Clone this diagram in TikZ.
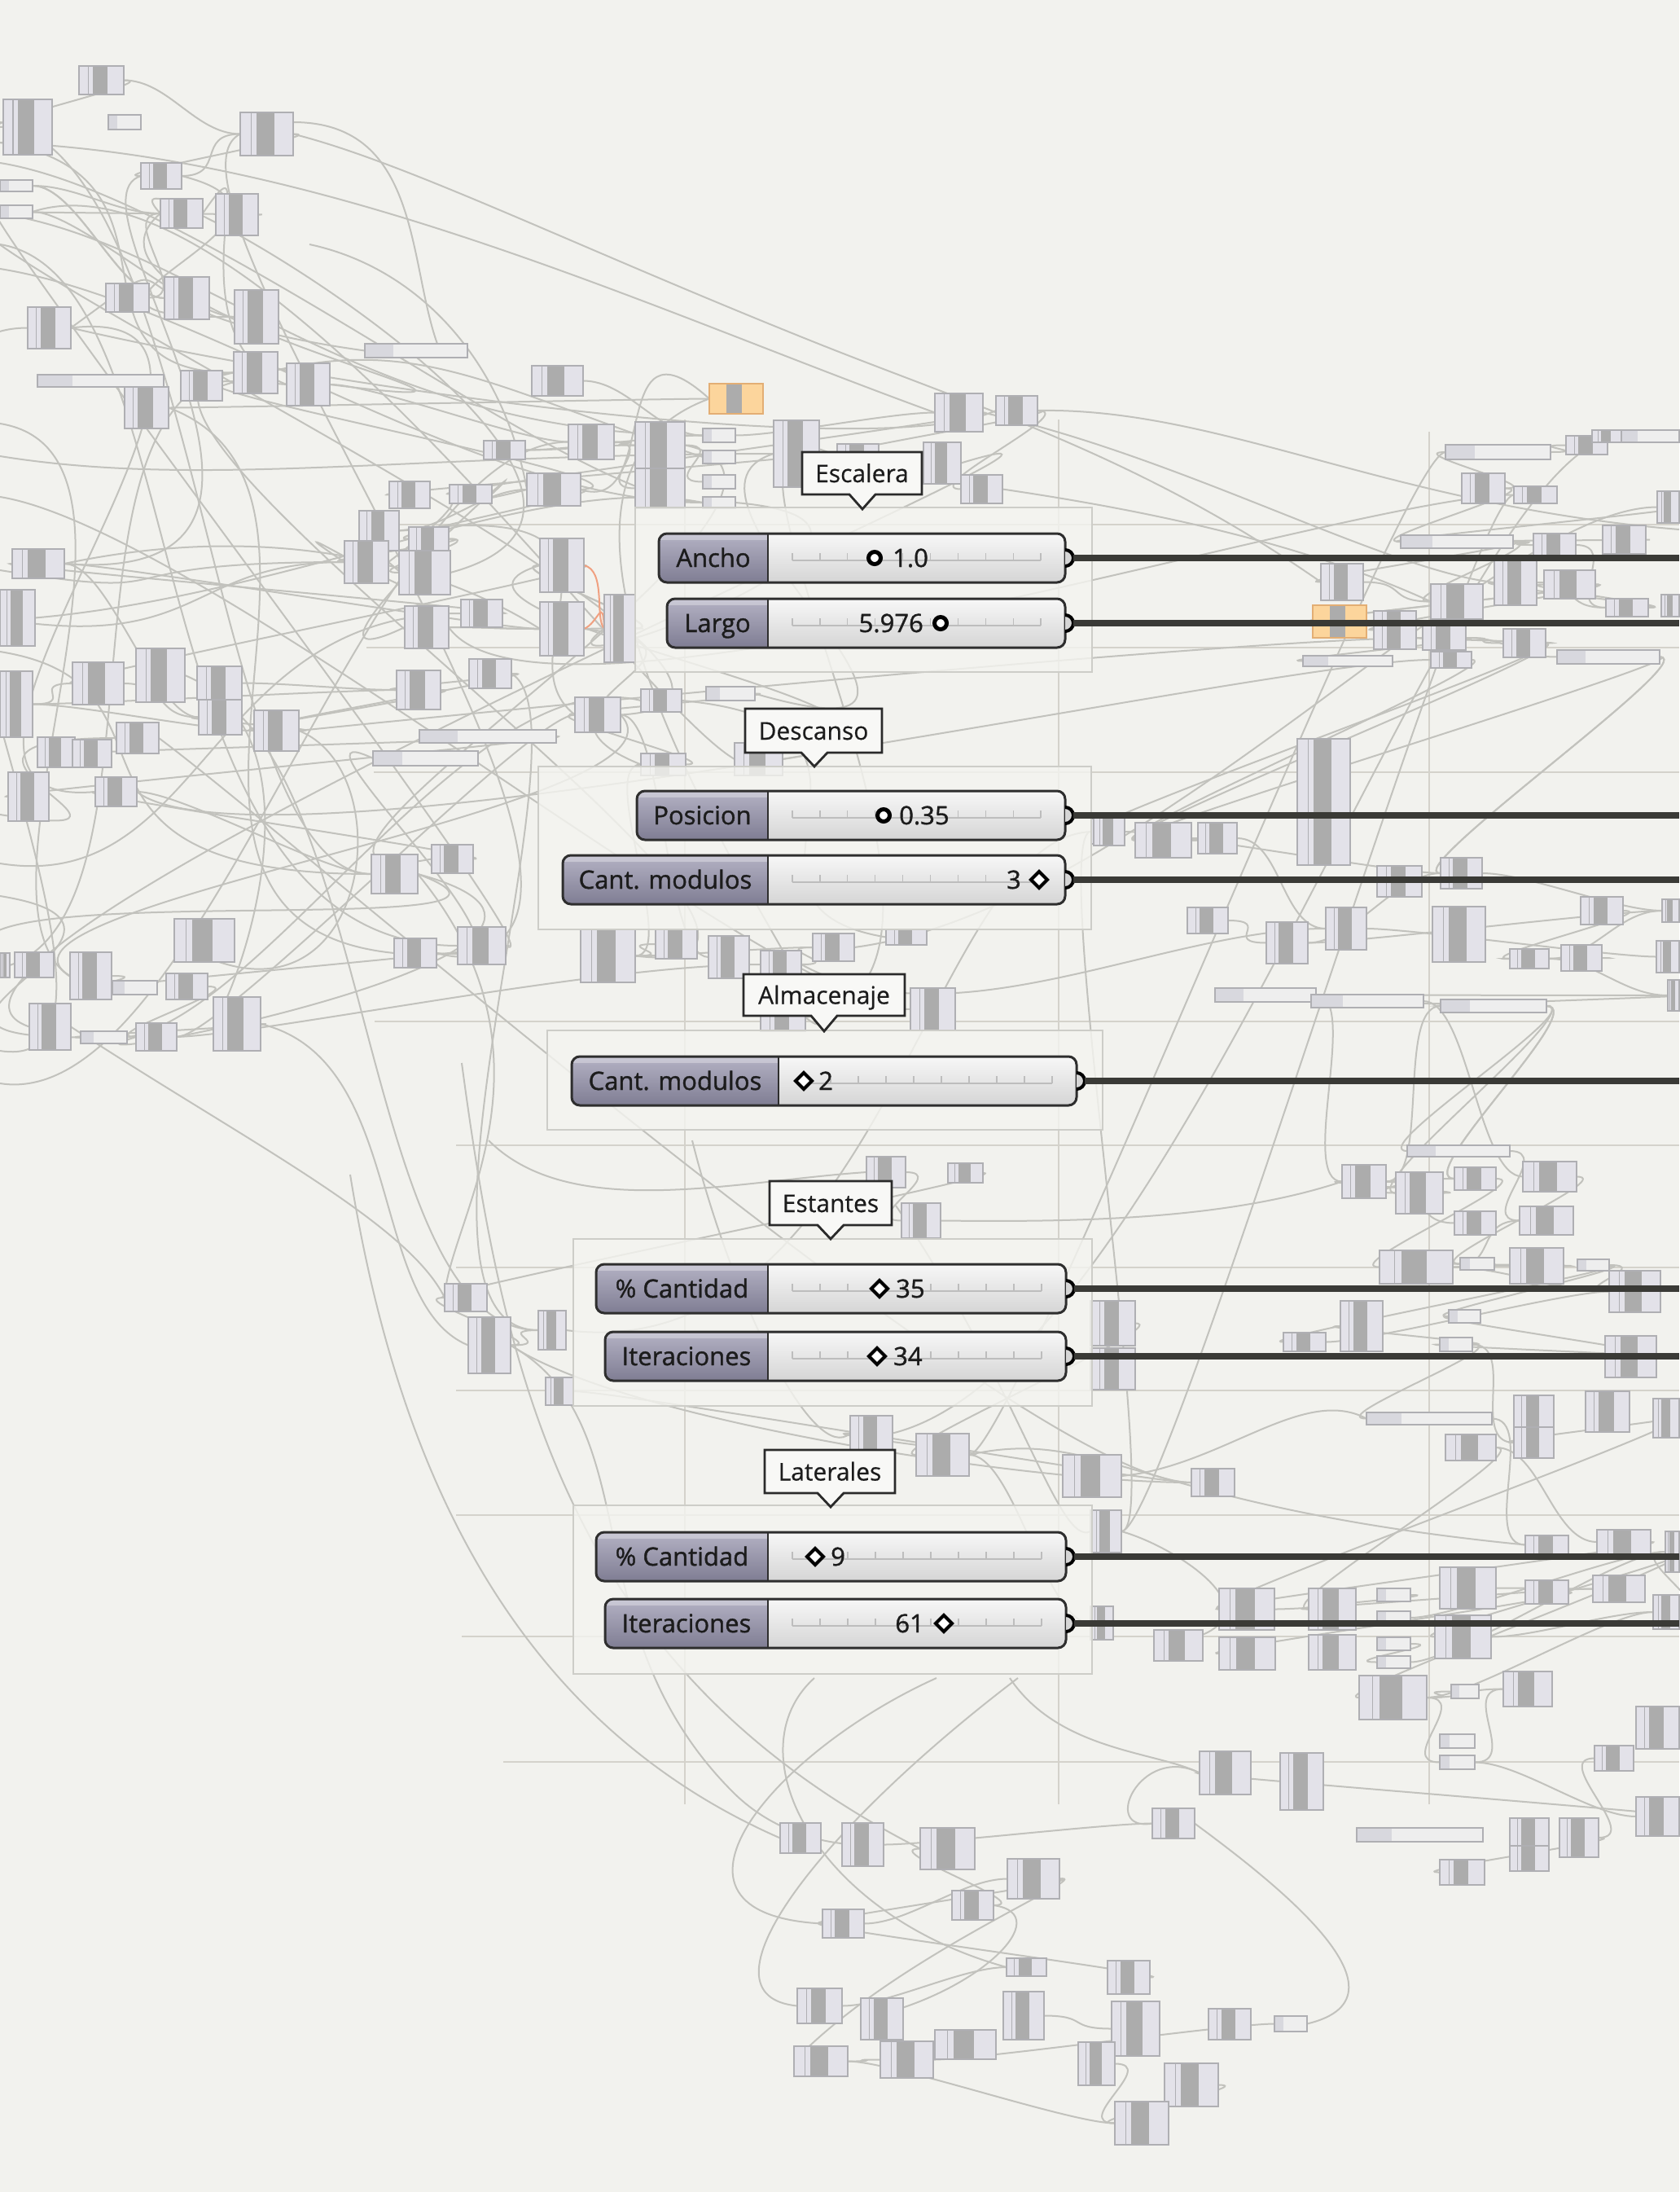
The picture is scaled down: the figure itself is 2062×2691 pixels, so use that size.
\documentclass[tikz,border=0pt]{standalone}
\usepackage{fontspec}
\setmainfont{Open Sans}
\newfontfamily\slfont[FakeBold=1.2]{Open Sans}
\newfontfamily\bbfont[FakeBold=0.5]{Open Sans}
\usetikzlibrary{calc}
\definecolor{bgc}{HTML}{F2F2EE}
\definecolor{wirec}{HTML}{C2C2BD}
\definecolor{gridc}{HTML}{D4D2CB}
\definecolor{compfill}{HTML}{E3E2E9}
\definecolor{compmid}{HTML}{ACACAC}
\definecolor{compborder}{HTML}{AFAFB3}
\definecolor{panelfill}{HTML}{EEEEEE}
\definecolor{panelleft}{HTML}{D8D8DE}
\definecolor{orangefill}{HTML}{FCD59C}
\definecolor{orangeborder}{HTML}{E3AE74}
\definecolor{groupc}{HTML}{CDCDC8}
\definecolor{groupfill}{HTML}{F4F4F0}
\definecolor{bubblef}{HTML}{F8F8F6}
\definecolor{bubbled}{HTML}{2A2A2A}
\definecolor{thickc}{HTML}{3A3A36}
\definecolor{nametop}{HTML}{B4B2C4}
\definecolor{namebot}{HTML}{7F7D93}
\definecolor{valtop}{HTML}{F7F7F7}
\definecolor{valbot}{HTML}{D5D5D5}
\definecolor{slborder}{HTML}{2E2E2E}
\definecolor{textc}{HTML}{1C1C1C}
\definecolor{tickc}{HTML}{BDBDBD}
\definecolor{orwire}{HTML}{F0A080}
\pgfdeclarelayer{bglayer}
\pgfdeclarelayer{wirelayer}
\pgfsetlayers{bglayer,wirelayer,main}
\tikzset{
  wire/.style={draw=wirec, line width=2pt},
  orangewire/.style={draw=orwire, line width=2pt},
  thickwire/.style={draw=thickc, line width=8pt},
  gridline/.style={draw=gridc, line width=1.6pt},
  groupbox/.style={draw=groupc, line width=2pt, fill=groupfill, fill opacity=0.8},
  bubble/.style={draw=bubbled, line width=2.8pt, fill=bubblef, line join=miter},
  lbl/.style={font=\slfont\fontsize{31}{37}\selectfont, text=textc, inner sep=0pt, anchor=base},
  blbl/.style={font=\bbfont\fontsize{30}{36}\selectfont, text=textc, inner sep=0pt, anchor=base},
  vallbl/.style={font=\slfont\fontsize{31}{37}\selectfont, text=textc, inner sep=0pt},
  ringmark/.style={draw=black, line width=5pt, fill=white},
  diamark/.style={draw=black, line width=4pt, fill=white, line join=miter},
}
% component: index, x1, y1, x2, y2
\newcommand\gcC[5]{%
  \pgfmathsetmacro\gw{#4-#2}%
  \fill[compfill] (#2,#3) rectangle (#4,#5);
  \fill[compmid] ({#2+0.3*\gw},#3) rectangle ({#2+0.64*\gw},#5);
  \draw[compborder, line width=1pt] ({#2+0.2*\gw},#3) -- ({#2+0.2*\gw},#5);
  \draw[compborder, line width=1.6pt] (#2,#3) rectangle (#4,#5);
  \coordinate (c#1-i) at (#2,{(#3+#5)/2});
  \coordinate (c#1-o) at (#4,{(#3+#5)/2});
}
\newcommand\gcP[5]{%
  \pgfmathsetmacro\gw{#4-#2}%
  \fill[panelfill] (#2,#3) rectangle (#4,#5);
  \fill[panelleft] (#2,#3) rectangle ({#2+0.28*\gw},#5);
  \draw[compborder, line width=1.6pt] (#2,#3) rectangle (#4,#5);
  \coordinate (c#1-i) at (#2,{(#3+#5)/2});
  \coordinate (c#1-o) at (#4,{(#3+#5)/2});
}
\newcommand\gcO[5]{%
  \pgfmathsetmacro\gw{#4-#2}%
  \fill[orangefill] (#2,#3) rectangle (#4,#5);
  \fill[compmid] ({#2+0.32*\gw},#3) rectangle ({#2+0.6*\gw},#5);
  \draw[orangeborder, line width=1.6pt] (#2,#3) rectangle (#4,#5);
  \coordinate (c#1-i) at (#2,{(#3+#5)/2});
  \coordinate (c#1-o) at (#4,{(#3+#5)/2});
}
% slider: name, x1, cy, sep, x2, label
\newcommand\gslider[6]{%
  \path[top color=valtop, bottom color=valbot, rounded corners=10pt] (#2,{#3-30}) rectangle (#5,{#3+30});
  \begin{scope}
    \clip[rounded corners=10pt] (#2,{#3-30}) rectangle (#5,{#3+30});
    \path[top color=nametop, bottom color=namebot] (#2,{#3-30}) rectangle (#4,{#3+30});
    \fill[white, opacity=0.3] (#2,{#3-30}) rectangle (#4,{#3-22});
  \end{scope}
  \draw[tickc, line width=1.2pt] ({#4+30},{#3+3}) -- ({#5-30},{#3+3});
  \foreach \tk in {0,...,9}{\draw[tickc, line width=1.2pt] ({#4+30+\tk*(#5-#4-60)/9},{#3-6}) -- ({#4+30+\tk*(#5-#4-60)/9},{#3+3});}
  \draw[slborder, line width=2.5pt] (#4,{#3-30}) -- (#4,{#3+30});
  \draw[slborder, line width=3pt, rounded corners=10pt] (#2,{#3-30}) rectangle (#5,{#3+30});
  \begin{scope}
    \clip (#5,{#3-17}) rectangle ({#5+17},{#3+17});
    \draw[black, line width=4pt, fill=valbot] (#5,#3) circle[radius=10pt];
  \end{scope}
  \coordinate (#1-out) at ({#5+10},#3);
  \coordinate (#1-end) at (2062,#3);
  \node[lbl] (#1-label) at ({(#2+#4)/2},{#3+11}) {#6};
}
% bubble: name, x1, y1, x2, y2, tipx, tipy, text
\newcommand\gbubble[8]{%
  \draw[bubble] (#2,#3) -- (#4,#3) -- (#4,#5) -- ({#6+16},#5) -- (#6,#7) -- ({#6-16},#5) -- (#2,#5) -- cycle;
  \node[blbl] (#1) at ({(#2+#4)/2},{(#3+#5)/2+11}) {#8};
}
\newcommand\ringat[2]{\draw[ringmark] (#1,#2) circle[radius=7.5pt];}
\newcommand\diaat[2]{\draw[diamark] ({#1-10},#2) -- (#1,{#2-10}) -- ({#1+10},#2) -- (#1,{#2+10}) -- cycle;}

\begin{document}
\begin{tikzpicture}[x=1pt,y=-1pt]
\useasboundingbox (0,0) rectangle (2062,2691);
\begin{pgfonlayer}{bglayer}
  \fill[bgc] (0,0) rectangle (2062,2691);
  \foreach \gy/\gx in {644/450, 795/450, 948/459, 1254/460, 1406/560, 1556/560, 1707/560, 1860/560, 2009/567, 2163/618}
    \draw[gridline] (\gx,\gy) -- (2062,\gy);
  \foreach \gx/\gya in {841/515, 1300/515, 1755/530}
    \draw[gridline] (\gx,\gya) -- (\gx,2215);
\end{pgfonlayer}

% ---------- components ----------
\foreach \ci/\ct/\xa/\ya/\xb/\yb in {
1/C/97/81/152/116, 2/C/4/122/64/190, 3/P/133/141/173/159, 4/C/295/138/360/191,
5/C/173/200/223/232, 6/P/0/221/40/235, 7/P/0/252/40/268, 8/C/197/244/249/280,
9/C/265/238/317/289, 10/C/130/348/183/383, 11/C/202/340/257/392, 12/C/288/356/342/422,
13/C/34/377/87/428, 14/C/287/432/341/483, 15/P/46/460/201/475, 16/C/153/475/207/526,
17/C/222/455/273/492, 18/C/352/446/405/498, 19/P/448/422/574/439, 20/C/653/449/716/486,
21/O/871/471/937/508, 22/C/594/541/645/564, 23/C/698/521/754/564, 24/C/780/518/841/575,
25/C/780/575/841/624, 26/P/863/526/903/543, 27/P/863/553/903/569, 28/P/863/583/903/600,
29/P/863/610/903/624, 30/C/950/516/1006/598, 31/C/1028/545/1079/575, 32/C/1148/483/1207/530,
33/C/1223/486/1274/522, 34/C/1134/543/1180/594, 35/C/1180/583/1231/618, 36/C/478/591/528/624,
37/C/552/595/604/618, 38/C/647/581/713/621, 39/C/441/627/490/676, 40/C/423/664/477/716,
41/C/502/647/551/676, 42/C/490/676/553/730, 43/C/497/744/551/796, 44/C/566/736/617/770,
45/C/663/661/717/727, 46/C/663/739/717/805, 47/C/742/730/780/813, 48/C/15/674/79/710,
49/C/0/724/43/793, 50/C/0/824/40/905, 51/C/89/813/152/865, 52/C/167/796/227/862,
53/C/242/818/297/859, 54/C/244/859/297/902, 55/C/312/872/367/922, 56/C/487/823/541/871,
57/C/576/809/628/845, 58/C/706/856/762/899, 59/P/515/896/683/912, 60/P/458/922/587/940,
61/C/143/887/195/925, 62/C/46/905/92/942, 63/C/89/908/137/942, 64/C/10/948/60/1008,
65/C/117/954/168/990, 66/C/456/1049/513/1097, 67/C/530/1037/581/1072, 68/C/214/1128/288/1181,
69/C/484/1152/536/1188, 70/C/562/1138/621/1184, 71/C/18/1169/66/1200, 72/C/86/1169/137/1227,
73/P/138/1204/193/1221, 74/C/204/1195/255/1227, 75/C/36/1232/87/1289, 76/P/99/1266/156/1281,
77/C/167/1256/217/1290, 78/C/262/1224/320/1290, 79/C/0/1170/12/1200, 80/P/867/843/927/860,
81/C/706/856/762/899, 82/C/787/846/837/874, 83/C/787/925/842/952, 84/C/902/912/961/952,
85/C/713/1141/780/1206, 86/C/805/1141/856/1177, 87/C/870/1149/920/1201, 88/C/934/1167/984/1201,
89/C/998/1146/1049/1180, 90/C/1088/1141/1138/1160, 91/C/1118/1213/1173/1265, 92/C/934/1232/989/1266,
93/C/1064/1420/1112/1458, 94/C/1164/1428/1207/1452, 95/C/1107/1477/1155/1520, 96/C/546/1576/598/1610,
97/C/575/1617/627/1686, 98/C/661/1609/695/1657, 99/C/670/1691/704/1725, 100/C/1339/1597/1394/1652,
101/C/1339/1655/1394/1706, 102/C/1044/1738/1096/1781, 103/C/1125/1760/1190/1812, 104/C/1305/1786/1377/1838,
105/C/1463/1803/1516/1837, 106/C/1339/1854/1377/1906, 107/C/1339/1972/1367/2013, 108/C/1340/1005/1360/1036,
109/P/1775/546/1904/564, 110/C/1795/581/1848/618, 111/C/1859/597/1912/618, 112/C/1923/535/1974/558,
113/C/1955/528/1991/543, 114/P/1991/528/2062/543, 115/C/2035/603/2062/642, 116/P/1720/657/1858/673,
117/C/1883/655/1935/683, 118/C/1968/645/2021/680, 119/C/1622/692/1674/737, 120/C/1757/717/1821/760,
121/C/1835/687/1887/743, 122/C/1896/700/1959/735, 123/C/1972/735/2024/757, 124/C/2040/730/2062/757,
125/O/1612/743/1678/783, 126/C/1687/750/1739/797, 127/C/1747/768/1800/798, 128/C/1846/772/1898/807,
129/P/1600/805/1710/818, 130/C/1757/800/1807/820, 131/P/1912/798/2038/815, 132/C/1343/1004/1381/1038,
133/C/1394/1010/1463/1053, 134/C/1471/1010/1519/1048, 135/C/1593/907/1658/1062, 136/C/1691/1063/1746/1101,
137/C/1769/1053/1820/1091, 138/C/1458/1114/1508/1146, 139/C/1555/1132/1606/1183, 140/C/1628/1114/1678/1166,
141/C/1759/1113/1824/1181, 142/C/1941/1101/1993/1135, 143/C/2041/1104/2062/1132, 144/C/1854/1165/1902/1189,
145/C/1917/1160/1967/1192, 146/C/2034/1155/2062/1194, 147/C/2048/1203/2062/1241, 148/P/1492/1213/1616/1230,
149/P/1610/1221/1748/1237, 150/P/1769/1227/1899/1243, 151/P/1728/1406/1854/1420, 152/C/1648/1430/1702/1471,
153/C/1714/1439/1772/1490, 154/C/1786/1433/1837/1461, 155/C/1870/1426/1936/1463, 156/C/1786/1487/1837/1516,
157/C/1866/1481/1932/1516, 158/C/1694/1535/1784/1576, 159/P/1793/1544/1835/1559, 160/C/1854/1532/1920/1576,
161/P/1937/1546/1976/1560, 162/C/1976/1560/2039/1611, 163/C/1576/1636/1628/1659, 164/C/1646/1597/1698/1659,
165/P/1779/1608/1818/1624, 166/P/1768/1642/1808/1659, 167/C/1971/1640/2034/1691, 168/P/1678/1734/1832/1749,
169/C/1859/1713/1908/1752, 170/C/1859/1752/1908/1790, 171/C/1947/1708/2001/1758, 172/P/2039/1730/2062/1745,
173/C/1775/1761/1837/1793, 174/C/1873/1885/1926/1908, 175/C/1961/1878/2027/1908, 176/C/1497/1950/1565/2001,
177/C/1607/1950/1665/2001, 178/P/1691/1950/1732/1966, 179/C/1768/1924/1837/1975, 180/C/1873/1940/1926/1969,
181/C/1956/1934/2020/1967, 182/C/1417/2001/1477/2039, 183/C/1497/2010/1566/2050, 184/C/1607/2007/1665/2050,
185/P/1691/1978/1732/1994, 186/P/1691/2010/1732/2026, 187/P/1691/2033/1732/2048, 188/C/1762/1983/1831/2036,
189/C/2030/1717/2062/1765, 190/C/2045/1880/2062/1930, 191/C/2030/1958/2062/2000, 192/C/2009/2095/2062/2147,
193/C/1669/2057/1752/2111, 194/P/1782/2068/1816/2085, 195/C/1846/2052/1906/2095, 196/P/1768/2129/1811/2146,
197/P/1768/2155/1811/2172, 198/C/1958/2143/2006/2174, 199/C/2009/2206/2062/2254, 200/C/1915/2232/1963/2280,
201/C/1854/2232/1902/2266, 202/C/1854/2266/1902/2297, 203/P/1666/2244/1821/2261, 204/C/1768/2283/1823/2314,
205/C/1473/2150/1536/2203, 206/C/1572/2152/1625/2222, 207/C/1415/2220/1467/2257, 208/C/958/2238/1008/2275,
209/C/1034/2238/1085/2291, 210/C/1130/2244/1197/2295, 211/C/1237/2282/1301/2331, 212/C/1169/2321/1220/2357,
213/C/1010/2344/1061/2379, 214/C/1236/2404/1285/2426, 215/C/1360/2407/1412/2448, 216/C/979/2441/1034/2484,
217/C/1057/2453/1109/2504, 218/C/1232/2445/1282/2504, 219/C/1365/2457/1424/2524, 220/C/1484/2466/1536/2504,
221/P/1565/2475/1605/2494, 222/C/975/2512/1041/2549, 223/C/1081/2506/1146/2551, 224/C/1148/2492/1223/2528,
225/C/1324/2507/1369/2560, 226/C/1430/2533/1496/2586, 227/C/1369/2580/1435/2633}
{\csname gc\ct\endcsname{\ci}{\xa}{\ya}{\xb}{\yb}}

% ---------- thin wires ----------
\begin{pgfonlayer}{wirelayer}
\pgfmathsetseed{4242}
% local wires between neighbouring components
\foreach \k in {1,...,210}{
  \pgfmathrandominteger{\ra}{1}{227}
  \pgfmathrandominteger{\rd}{0}{8}
  \pgfmathtruncatemacro{\rb}{max(1,min(227,\ra+\rd-2))}
  \ifnum\rb=\ra\else
    \draw[wire] (c\ra-o) .. controls +(55,0) and +(-55,0) .. (c\rb-i);
  \fi
}
% long wires in the left web
\foreach \k in {1,...,38}{
  \pgfmathrandominteger{\ra}{1}{92}
  \pgfmathrandominteger{\rb}{1}{92}
  \pgfmathsetmacro{\cxa}{80+rnd*300}
  \pgfmathsetmacro{\cya}{rnd*260-130}
  \pgfmathsetmacro{\cxb}{80+rnd*300}
  \pgfmathsetmacro{\cyb}{rnd*260-130}
  \draw[wire] (c\ra-o) .. controls +(\cxa,\cya) and +(-\cxb,\cyb) .. (c\rb-i);
}
% wires from the left edge
\foreach \yy in {150,175,200,262,300,330,520,560,610,700,760,800,1000,1060,1100,1290,1330}{
  \pgfmathrandominteger{\rb}{10}{92}
  \pgfmathsetmacro{\cxb}{150+rnd*300}
  \draw[wire] (0,\yy) .. controls +(250,40) and +(-\cxb,0) .. (c\rb-i);
}
% long wires in the middle band
\foreach \k in {1,...,12}{
  \pgfmathrandominteger{\ra}{40}{108}
  \pgfmathrandominteger{\rb}{85}{140}
  \pgfmathsetmacro{\cxa}{100+rnd*300}
  \pgfmathsetmacro{\cya}{rnd*300-100}
  \draw[wire] (c\ra-o) .. controls +(\cxa,\cya) and +(-200,0) .. (c\rb-i);
}
% hand placed long curves
\draw[wire] (0,175) .. controls (400,190) and (800,380) .. (c32-i);
\draw[wire] (360,150) .. controls (520,150) and (500,330) .. (540,430);
\draw[wire] (380,300) .. controls (520,330) and (620,450) .. (c38-i);
\draw[wire] (c33-o) .. controls (1500,500) and (1700,620) .. (2062,650);
\draw[wire] (c32-o) .. controls (1450,560) and (1700,700) .. (c121-i);
\draw[wire] (c35-o) .. controls (1500,640) and (1650,690) .. (c120-i);
\draw[wire] (c4-o) .. controls (500,200) and (700,300) .. (1000,420) .. controls (1200,500) and (1400,560) .. (c119-i);
\draw[wire] (430,1442) .. controls (480,1750) and (600,2100) .. (c208-i);
\draw[wire] (567,1305) .. controls (620,1700) and (700,2050) .. (c210-i);
\draw[wire] (c66-o) .. controls (700,1300) and (550,1500) .. (c96-i);
\draw[wire] (1150,2060) .. controls (950,2150) and (780,2350) .. (c213-i);
\draw[wire] (1250,2060) .. controls (1000,2250) and (850,2450) .. (c216-i);
\draw[wire] (c207-o) .. controls (1550,2300) and (1750,2450) .. (c221-o);
\draw[wire] (c211-o) .. controls (1350,2300) and (1100,2400) .. (c222-i);
\draw[wire] (c212-o) .. controls (1300,2350) and (1200,2450) .. (c217-i);
\draw[wire] (c205-i) .. controls (1400,2140) and (1350,2250) .. (c207-i);
\draw[wire] (1000,2060) .. controls (900,2150) and (1000,2350) .. (c214-i);
\draw[wire] (1240,2060) .. controls (1300,2150) and (1420,2150) .. (c205-i);
\draw[wire] (850,1400) .. controls (900,1600) and (1000,1800) .. (c102-i);
\draw[wire] (600,1400) .. controls (700,1500) and (900,1450) .. (c93-i);
\draw[wire] (c97-o) .. controls (800,1750) and (700,2000) .. (900,2200) .. controls (1000,2300) and (1150,2250) .. (c209-i);
\draw[wire] (c78-o) .. controls (500,1300) and (450,1600) .. (c97-i);
\draw[wire] (c75-o) .. controls (300,1400) and (500,1500) .. (c96-i);
\draw[wire] (c55-o) .. controls (500,950) and (450,1300) .. (c68-i);
\draw[wire] (c52-o) .. controls (400,900) and (300,1200) .. (c78-i);
\draw[wire] (1100,1480) .. controls (1250,1700) and (1300,1900) .. (c106-i);
\draw[wire] (c95-o) .. controls (1300,1500) and (1500,1500) .. (c152-i);
\draw[wire] (c103-o) .. controls (1350,1750) and (1400,1850) .. (c174-i);
\draw[wire] (c106-o) .. controls (1450,1900) and (1600,2000) .. (c182-i);
\draw[wire] (c104-o) .. controls (1500,1800) and (1600,1700) .. (c168-i);
\draw[orangewire] (c45-o) .. controls (745,700) and (730,760) .. (c47-i);
\draw[orangewire] (c46-o) .. controls (735,765) and (740,730) .. (c47-i);
\end{pgfonlayer}

% ---------- groups ----------
\draw[groupbox] (780,623) rectangle (1341,825);
\draw[groupbox] (661,941) rectangle (1340,1141);
\draw[groupbox] (672,1265) rectangle (1354,1387);
\draw[groupbox] (704,1521) rectangle (1341,1726);
\draw[groupbox] (704,1848) rectangle (1341,2055);

\gbubble{b1}{985}{555}{1132}{607}{1059}{625}{Escalera}
\gbubble{b2}{915}{870}{1083}{924}{1000}{941}{Descanso}
\gbubble{b3}{913}{1196}{1111}{1247}{1012}{1266}{Almacenaje}
\gbubble{b4}{945}{1450}{1095}{1504}{1020}{1521}{Estantes}
\gbubble{b5}{939}{1780}{1099}{1833}{1020}{1850}{Laterales}

% ---------- sliders ----------
\gslider{s1}{809}{685}{943}{1308}{Ancho}
\ringat{1074}{685}
\node[vallbl, anchor=base west] (s1-val) at (1096,696) {1.0};

\gslider{s2}{819}{765}{943}{1308}{Largo}
\node[vallbl, anchor=base east] (s2-val) at (1134,776) {5.976};
\ringat{1155}{765}

\gslider{s3}{782}{1001}{943}{1308}{Posicion}
\ringat{1085}{1001}
\node[vallbl, anchor=base west] (s3-val) at (1104,1012) {0.35};

\gslider{s4}{691}{1080}{943}{1308}{Cant. modulos}
\node[vallbl, anchor=base east] (s4-val) at (1254,1091) {3};
\diaat{1276}{1080}

\gslider{s5}{702}{1327}{956}{1322}{Cant. modulos}
\diaat{987}{1327}
\node[vallbl, anchor=base west] (s5-val) at (1005,1338) {2};

\gslider{s6}{732}{1582}{943}{1309}{\% Cantidad}
\diaat{1080}{1582}
\node[vallbl, anchor=base west] (s6-val) at (1100,1593) {35};

\gslider{s7}{743}{1665}{943}{1309}{Iteraciones}
\diaat{1077}{1665}
\node[vallbl, anchor=base west] (s7-val) at (1097,1676) {34};

\gslider{s8}{732}{1911}{943}{1309}{\% Cantidad}
\diaat{1001}{1911}
\node[vallbl, anchor=base west] (s8-val) at (1020,1922) {9};

\gslider{s9}{743}{1993}{943}{1309}{Iteraciones}
\node[vallbl, anchor=base east] (s9-val) at (1135,2004) {61};
\diaat{1159}{1993}

% ---------- output wires ----------
\foreach \s in {s1,s2,s3,s4,s5,s6,s7,s8,s9}
  \draw[thickwire] (\s-out) -- (\s-end);
\end{tikzpicture}
\end{document}
